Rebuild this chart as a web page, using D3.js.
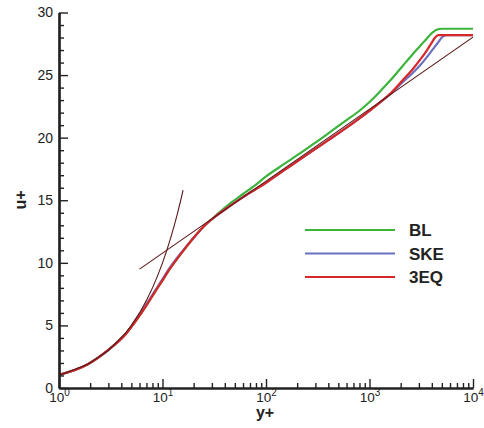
<!DOCTYPE html>
<html>
<head>
<meta charset="utf-8">
<script src="https://cdn.jsdelivr.net/npm/d3@7"></script>
<style>
  body { margin: 0; background: #fff; }
  svg { font-family: "Liberation Sans", Arial, sans-serif; }
</style>
</head>
<body>
<div class="chart"></div>
<script>
// chart size and plot box
const WIDTH = 484;
const HEIGHT = 428;
const MARGIN = { left: 59, right: 11, top: 12.5, bottom: 40 };

// axis values
const X_DOMAIN = [1, 10000];
const X_MAJOR = [1, 10, 100, 1000, 10000];
const X_EXP = ["0", "1", "2", "3", "4"];
const Y_DOMAIN = [0, 30];
const Y_MAJOR = [0, 5, 10, 15, 20, 25, 30];

// series, [y+, u+]
const BL = [
  [1, 1.05], [1.9, 1.9], [3, 3.05], [4.4, 4.3], [5.8, 5.6], [7, 6.6], [8.5, 7.7],
  [10, 8.6], [11.5, 9.4], [13.5, 10.2], [16, 11.0], [20, 12.0], [25, 12.9], [33, 13.8],
  [45, 14.75], [60, 15.5], [80, 16.25], [100, 16.9], [150, 17.9], [200, 18.6], [300, 19.6],
  [400, 20.35], [600, 21.4], [800, 22.15], [1000, 22.85], [1300, 23.8], [1600, 24.6],
  [2100, 25.75], [2600, 26.65], [3100, 27.35], [3600, 27.95], [4000, 28.35], [4400, 28.6],
  [5000, 28.7], [10000, 28.7]
];
const SKE = [
  [1, 1.05], [1.9, 1.9], [3, 3.05], [4.4, 4.3], [5.8, 5.7], [7, 6.7], [8.5, 7.8],
  [10, 8.7], [11.5, 9.5], [13.5, 10.3], [16, 11.05], [20, 12.0], [25, 12.9], [33, 13.75],
  [45, 14.55], [60, 15.25], [80, 15.9], [100, 16.4], [150, 17.4], [200, 18.1], [300, 19.1],
  [400, 19.8], [600, 20.8], [800, 21.55], [1000, 22.15], [1300, 22.9], [1600, 23.5],
  [2100, 24.45], [2600, 25.15], [3100, 25.8], [3600, 26.45], [4000, 26.95], [4500, 27.5],
  [5000, 28.0], [5500, 28.2], [10000, 28.2]
];
const EQ3 = [
  [1, 1.05], [1.9, 1.9], [3, 3.05], [4.4, 4.3], [5.8, 5.6], [7, 6.6], [8.5, 7.7],
  [10, 8.6], [11.5, 9.4], [13.5, 10.2], [16, 11.0], [20, 12.0], [25, 12.9], [33, 13.75],
  [45, 14.55], [60, 15.25], [80, 15.9], [100, 16.4], [150, 17.4], [200, 18.1], [300, 19.1],
  [400, 19.8], [600, 20.8], [800, 21.55], [1000, 22.15], [1300, 22.9], [1600, 23.55],
  [2100, 24.6], [2600, 25.45], [3100, 26.25], [3600, 27.0], [4000, 27.6], [4300, 28.0],
  [4600, 28.2], [10000, 28.2]
];
// reference lines: viscous sublayer and log law
const LAW_WALL = [
  [1, 1], [1.9, 1.9], [3, 3], [4.4, 4.4], [5, 5], [6, 6], [7, 7], [8, 8], [9, 9],
  [10, 10], [11, 11], [12, 12], [13, 13], [14, 14], [15, 15], [15.8, 15.8]
];
const LAW_LOG = [[6, 9.5], [10000, 28.03]];

const SERIES = [
  { name: "BL", data: BL, color: "#3cb43c" },
  { name: "SKE", data: SKE, color: "#6b70c0" },
  { name: "3EQ", data: EQ3, color: "#d62828" },
];
const REF_COLOR = "#5a1818";
const AXIS_COLOR = "#222";

const svg = d3.select(".chart")
  .append("svg")
  .attr("width", WIDTH)
  .attr("height", HEIGHT);

const xScale = d3.scaleLog()
  .domain(X_DOMAIN)
  .range([MARGIN.left, WIDTH - MARGIN.right]);

const yScale = d3.scaleLinear()
  .domain(Y_DOMAIN)
  .range([HEIGHT - MARGIN.bottom, MARGIN.top]);

const line = d3.line()
  .x(d => xScale(d[0]))
  .y(d => yScale(d[1]));

// smooth version for the model curves
const smoothLine = d3.line()
  .x(d => xScale(d[0]))
  .y(d => yScale(d[1]))
  .curve(d3.curveMonotoneX);

// curves, red on top of blue on top of green
svg.append("g")
  .attr("class", "curves")
  .selectAll("path")
  .data(SERIES)
  .join("path")
  .attr("d", d => smoothLine(d.data))
  .attr("fill", "none")
  .attr("stroke", d => d.color)
  .attr("stroke-width", 2.2)
  .attr("stroke-linejoin", "round");

// thin reference lines
svg.append("g")
  .attr("class", "laws")
  .selectAll("path")
  .data([LAW_WALL, LAW_LOG])
  .join("path")
  .attr("d", line)
  .attr("fill", "none")
  .attr("stroke", REF_COLOR)
  .attr("stroke-width", 1.1);

// minor ticks first, the major axes draw over them
const xMinor = xScale.ticks().filter(v => X_MAJOR.indexOf(v) < 0);
const yMinor = yScale.ticks(30).filter(v => Y_MAJOR.indexOf(v) < 0);

svg.append("g")
  .attr("transform", `translate(0, ${HEIGHT - MARGIN.bottom})`)
  .call(d3.axisBottom(xScale).tickValues(xMinor).tickSize(-5).tickSizeOuter(0).tickFormat(""));

svg.append("g")
  .attr("transform", `translate(${MARGIN.left}, 0)`)
  .call(d3.axisLeft(yScale).tickValues(yMinor).tickSize(-5).tickSizeOuter(0).tickFormat(""));

const xAxis = svg.append("g")
  .attr("class", "x-axis")
  .attr("transform", `translate(0, ${HEIGHT - MARGIN.bottom})`)
  .call(d3.axisBottom(xScale).tickValues(X_MAJOR).tickSize(-9).tickSizeOuter(0));

const yAxis = svg.append("g")
  .attr("class", "y-axis")
  .attr("transform", `translate(${MARGIN.left}, 0)`)
  .call(d3.axisLeft(yScale).tickValues(Y_MAJOR).tickSize(-9).tickSizeOuter(0).tickPadding(6));

svg.selectAll(".domain").attr("stroke", AXIS_COLOR).attr("stroke-width", 2.2);
svg.selectAll(".tick line").attr("stroke", AXIS_COLOR).attr("stroke-width", 1.4);
svg.selectAll(".tick text")
  .attr("fill", "#222")
  .attr("font-family", "'Liberation Sans', Arial, sans-serif")
  .attr("font-size", 14);

// x labels as 10 with a superscript exponent
xAxis.selectAll(".tick text")
  .text(null)
  .attr("y", 14)
  .attr("dy", 0)
  .attr("font-size", 13.5)
  .each(function (d, i) {
    const t = d3.select(this);
    t.append("tspan").text("10");
    t.append("tspan").attr("dy", -6).attr("font-size", 10).text(X_EXP[i]);
  });

// axis titles
svg.append("text")
  .attr("x", 265)
  .attr("y", 418)
  .attr("text-anchor", "middle")
  .attr("font-weight", "bold")
  .attr("font-size", 16)
  .attr("fill", "#222")
  .text("y+");

svg.append("text")
  .attr("transform", "translate(26, 200) rotate(-90)")
  .attr("text-anchor", "middle")
  .attr("font-weight", "bold")
  .attr("font-size", 16)
  .attr("fill", "#222")
  .text("u+");

// legend
const legend = svg.append("g")
  .attr("class", "legend")
  .selectAll("g")
  .data(SERIES)
  .join("g")
  .attr("transform", (d, i) => `translate(305, ${230 + i * 23.5})`);

legend.append("line")
  .attr("x1", 0)
  .attr("x2", 90)
  .attr("stroke", d => d.color)
  .attr("stroke-width", 2);

legend.append("text")
  .attr("x", 104)
  .attr("y", 6)
  .attr("font-weight", "bold")
  .attr("font-size", 17)
  .attr("fill", "#222")
  .text(d => d.name);
</script>
</body>
</html>
